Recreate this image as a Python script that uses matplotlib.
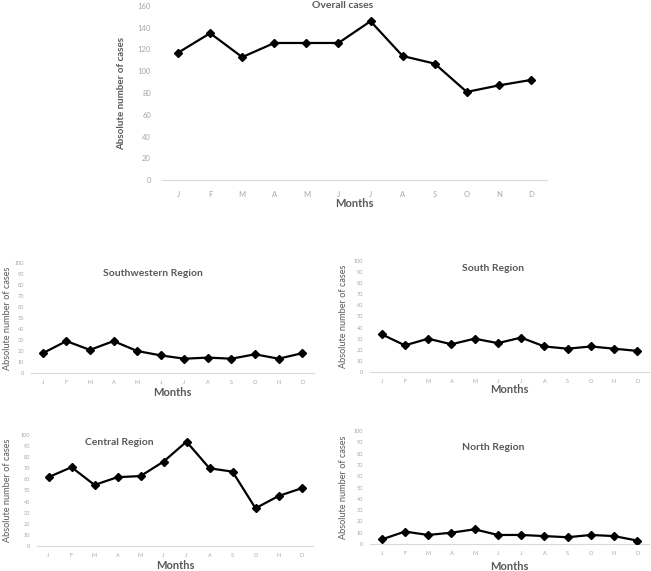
import matplotlib.pyplot as plt

plt.rcParams['font.family'] = ['Lato', 'DejaVu Sans']

months = ['J', 'F', 'M', 'A', 'M', 'J', 'J', 'A', 'S', 'O', 'N', 'D']

overall = [117, 135, 113, 126, 126, 126, 146, 114, 107, 81, 87, 92]
southwestern = [18, 29, 21, 29, 20, 16, 13, 14, 13, 17, 13, 18]
south = [34, 24, 30, 25, 30, 26, 31, 23, 21, 23, 21, 19]
central = [62, 71, 55, 62, 63, 76, 94, 70, 67, 34, 45, 52]
north = [4, 11, 8, 10, 13, 8, 8, 7, 6, 8, 7, 3]

W, H = 651, 571
TXT = '#595959'
TICK = '#a6a6a6'
AXC = '#d9d9d9'

fig = plt.figure(figsize=(W / 100, H / 100), dpi=100)


def panel(box, values, title, ymax, step, tpos, ylab_x, xlab_y, fs):
    left, top, width, height = box
    ax = fig.add_axes([left / W, (H - top - height) / H, width / W, height / H])
    x = list(range(len(months)))
    ax.plot(x, values, color='black', lw=1.6, marker='D', ms=fs['ms'], zorder=3)
    ax.set_xlim(-0.5, len(months) - 0.5)
    ax.set_ylim(0, ymax)
    ax.set_yticks(range(0, ymax + 1, step))
    ax.set_xticks(x)
    ax.set_xticklabels(months)
    for s in ['top', 'right', 'left']:
        ax.spines[s].set_visible(False)
    ax.spines['bottom'].set_color(AXC)
    ax.spines['bottom'].set_linewidth(0.8)
    ax.tick_params(length=0, labelsize=fs['tick'], colors=TICK, pad=fs['pad'])
    ax.text(tpos[0], tpos[1], title, transform=ax.transAxes, ha='center', va='center',
            fontsize=fs['title'], fontweight='bold', color=TXT)
    ax.set_ylabel('Absolute number of cases', fontsize=fs['ylab'], color=TXT,
                  fontweight=fs['yw'])
    ax.yaxis.set_label_coords(ylab_x, 0.5)
    ax.set_xlabel('Months', fontsize=fs['xlab'], fontweight='bold', color=TXT)
    ax.xaxis.set_label_coords(0.5, xlab_y)
    return ax


big = dict(ms=4, tick=5.5, pad=8, title=7.5, ylab=7, yw='bold', xlab=8)
small = dict(ms=3.6, tick=4, pad=5, title=7.5, ylab=6.6, yw='normal', xlab=8)

panel((162, 6, 385, 174), overall, 'Overall cases', 160, 20, (0.47, 1.0), -0.094, -0.103, big)
panel((31, 263, 283, 110), southwestern, 'Southwestern Region', 100, 10, (0.43, 0.90), -0.067, -0.13, small)
panel((370, 261, 279, 111), south, 'South Region', 100, 10, (0.44, 0.93), -0.079, -0.108, small)
panel((37, 435, 276, 111), central, 'Central Region', 100, 10, (0.30, 0.93), -0.09, -0.126, small)
panel((370, 431, 279, 113), north, 'North Region', 100, 10, (0.44, 0.85), -0.079, -0.15, small)

fig.savefig('out.png', dpi=100)
